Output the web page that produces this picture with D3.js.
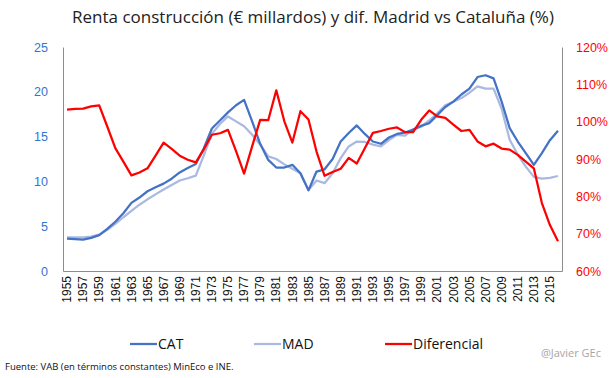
<!DOCTYPE html>
<html>
<head>
<meta charset="utf-8">
<script src="https://cdn.jsdelivr.net/npm/d3@7"></script>
<style>
  html, body { margin: 0; padding: 0; background: #fff; }
  svg { display: block; font-family: "Open Sans", "DejaVu Sans", sans-serif; }
</style>
</head>
<body>
<svg id="chart" width="609" height="378"></svg>
<script>
const years = d3.range(1955, 2017);
const cat = [3.6, 3.55, 3.5, 3.7, 4.0, 4.7, 5.5, 6.45, 7.6, 8.2, 8.9, 9.35, 9.75, 10.3, 11.0, 11.5, 11.95, 13.7, 15.9, 16.8,
  17.7, 18.5, 19.1, 16.7, 14.2, 12.4, 11.55, 11.55, 11.85, 10.9, 9.0, 11.1, 11.35, 12.5, 14.45, 15.4, 16.25, 15.3, 14.45, 14.2,
  14.9, 15.3, 15.45, 15.8, 16.2, 16.5, 17.4, 18.3, 18.9, 19.7, 20.35, 21.65, 21.85, 21.5, 18.9, 15.95, 14.45, 13.15, 11.85, 13.15,
  14.6, 15.65];
const mad = [3.75, 3.75, 3.75, 3.85, 4.05, 4.6, 5.25, 6.0, 6.7, 7.4, 8.0, 8.55, 9.1, 9.6, 10.1, 10.35, 10.65, 12.9, 15.3, 16.4,
  17.25, 16.7, 16.15, 15.2, 14.1, 12.8, 12.5, 11.9, 11.4, 10.9, 9.05, 10.1, 9.8, 10.9, 12.6, 13.9, 14.45, 14.4, 14.1, 13.9,
  14.6, 15.2, 15.1, 15.8, 16.1, 16.8, 17.6, 18.5, 18.9, 19.3, 19.9, 20.6, 20.35, 20.35, 18.1, 14.65, 13.0, 11.65, 10.5, 10.3,
  10.4, 10.6];
const diferencial = [103.2, 103.4, 103.5, 104.1, 104.35, 98.7, 92.9, 89.3, 85.6, 86.4, 87.5, 90.9, 94.4, 92.7, 90.9, 89.8, 89.1, 92.6, 96.5, 96.9,
  97.8, 92.1, 86.1, 93.4, 100.5, 100.4, 108.4, 100.1, 94.4, 102.8, 100.6, 92.0, 85.5, 86.5, 87.4, 90.3, 88.8, 92.9, 97.0, 97.5,
  98.1, 98.45, 97.2, 97.2, 100.5, 103.0, 101.4, 101.0, 99.2, 97.5, 97.8, 94.7, 93.4, 94.1, 92.8, 92.5, 91.1, 89.3, 87.5, 78.2,
  72.3, 68.0];
const leftTicks = [0, 5, 10, 15, 20, 25];
const rightTicks = [60, 70, 80, 90, 100, 110, 120];
const yearLabels = years.filter(y => (y - 1955) % 2 === 0);
const seriesNames = ["CAT", "MAD", "Diferencial"];
const colors = { CAT: "#4472C4", MAD: "#A9B9E1", Diferencial: "#FF0000" };

const svg = d3.select("#chart");
const L = 63, R = 562, T = 47, B = 271;

const x = d3.scaleBand().domain(years).range([L, R]);
const yL = d3.scaleLinear().domain([0, 25]).range([B, T]);
const yR = d3.scaleLinear().domain([60, 120]).range([B, T]);
const cx = d => x(d) + x.bandwidth() / 2;

// title
svg.append("text").attr("x", 313).attr("y", 23).attr("text-anchor", "middle")
  .attr("font-size", 17).attr("fill", "#222")
  .text("Renta construcción (€ millardos) y dif. Madrid vs Cataluña (%)");

// axes
const axisL = svg.append("g").attr("transform", `translate(${L},0)`)
  .call(d3.axisLeft(yL).tickValues(leftTicks).tickSize(0).tickPadding(15));
axisL.select(".domain").attr("stroke", "#8c8c8c");
axisL.selectAll("text").attr("fill", "#2E75D6").attr("font-size", 12.5);

const axisR = svg.append("g").attr("transform", `translate(${R},0)`)
  .call(d3.axisRight(yR).tickValues(rightTicks).tickSize(0).tickPadding(14).tickFormat(d => d + "%"));
axisR.select(".domain").attr("stroke", "#8c8c8c");
axisR.selectAll("text").attr("fill", "#FF0000").attr("font-size", 12.5);

const axisB = svg.append("g").attr("transform", `translate(0,${B})`)
  .call(d3.axisBottom(x).tickValues(yearLabels).tickSize(0).tickPadding(0));
axisB.select(".domain").attr("stroke", "#8c8c8c");
axisB.selectAll("text").attr("fill", "#111").attr("font-size", 12)
  .attr("text-anchor", "end").attr("transform", "rotate(-90)")
  .attr("x", -5).attr("y", 0).attr("dy", "0.35em");

// lines
const lineL = arr => d3.line().x((d, i) => cx(years[i])).y(d => yL(d))(arr);
const lineR = arr => d3.line().x((d, i) => cx(years[i])).y(d => yR(d))(arr);
svg.append("path").attr("d", lineL(mad)).attr("fill", "none").attr("stroke", colors.MAD).attr("stroke-width", 2.25).attr("stroke-linejoin", "round");
svg.append("path").attr("d", lineL(cat)).attr("fill", "none").attr("stroke", colors.CAT).attr("stroke-width", 2.25).attr("stroke-linejoin", "round");
svg.append("path").attr("d", lineR(diferencial)).attr("fill", "none").attr("stroke", colors.Diferencial).attr("stroke-width", 2.25).attr("stroke-linejoin", "round");

// legend
const legX = [130, 254, 385];
seriesNames.forEach((n, i) => {
  const g = svg.append("g").attr("transform", `translate(${legX[i]},344)`);
  g.append("line").attr("x1", 0).attr("x2", 27).attr("stroke", colors[n]).attr("stroke-width", 2.25);
  g.append("text").attr("x", 28).attr("dy", "0.35em").attr("font-size", 14).attr("fill", "#111").text(n);
});

svg.append("text").attr("x", 601).attr("y", 357).attr("text-anchor", "end")
  .attr("font-size", 11).attr("fill", "#a6a6a6").text("@Javier GEc");
svg.append("text").attr("x", 5).attr("y", 370)
  .attr("font-size", 9.5).attr("fill", "#111").text("Fuente: VAB (en términos constantes) MinEco e INE.");
</script>
</body>
</html>
